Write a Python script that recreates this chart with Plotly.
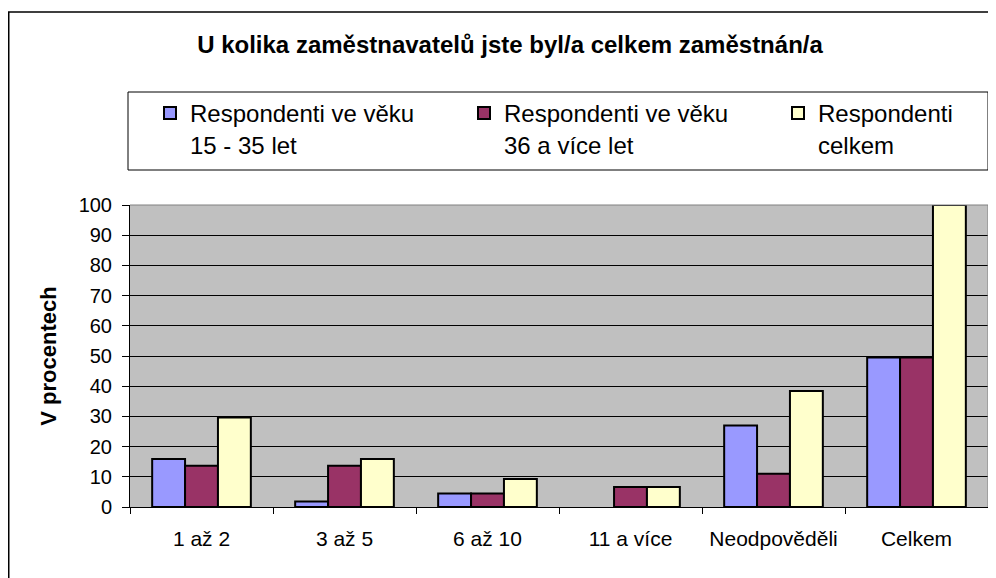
import plotly.graph_objects as go

categories = ["1 až 2", "3 až 5", "6 až 10", "11 a více", "Neodpověděli", "Celkem"]
series_names = ["Respondenti ve věku<br>15 - 35 let", "Respondenti ve věku<br>36 a více let", "Respondenti<br>celkem"]
young = [15.9, 1.8, 4.5, 0, 27.0, 49.5]
older = [13.7, 13.7, 4.5, 6.6, 11.0, 49.5]
total = [29.6, 15.9, 9.3, 6.6, 38.4, 100]
colors = ["#9999FF", "#993366", "#FFFFCC"]
y_ticks = list(range(0, 101, 10))

FONT = "Liberation Sans, Arial, sans-serif"

fig = go.Figure()
for name, vals, col in zip(series_names, [young, older, total], colors):
    fig.add_trace(go.Bar(
        x=categories, y=vals, name=name,
        marker=dict(color=col, line=dict(color="#000000",
                                         width=[2 if v > 0 else 0 for v in vals])),
    ))

# page body has an 8px margin: work in reference-pixel coordinates minus 8
OFF = 8
W, H = 996 - OFF, 578 - OFF
L = 130 - OFF
R = W - (988 - OFF)
T = 205 - OFF
B = H - (507 - OFF)
pw = W - L - R
ph = H - T - B

def px_x(x):
    return (x - OFF - L) / pw

def px_y(y):
    return 1 - (y - OFF - T) / ph

fig.update_layout(
    width=W, height=H,
    margin=dict(l=L, r=R, t=T, b=B, autoexpand=False),
    paper_bgcolor="white",
    plot_bgcolor="#C0C0C0",
    font=dict(family=FONT, color="#000000", size=20),
    bargap=0.31, bargroupgap=0,
    title=dict(text="<b>U kolika zaměstnavatelů jste byl/a celkem zaměstnán/a</b>",
               x=(510 - OFF) / W, xanchor="center", y=1 - (45 - OFF) / H, yanchor="middle",
               font=dict(size=24, family=FONT)),
    legend=dict(orientation="h", x=px_x(127), xanchor="left", y=px_y(91), yanchor="top",
                indentation=23, valign="top",
                font=dict(size=24, family=FONT), entrywidth=246, entrywidthmode="pixels",
                bgcolor="rgba(0,0,0,0)", borderwidth=0, traceorder="normal"),
    showlegend=True,
    xaxis=dict(showgrid=False, ticks="outside", ticklen=6, tickcolor="#000", tickson="boundaries",
               showline=True, linecolor="#000", linewidth=1, tickfont=dict(size=21),
               ticklabelstandoff=13, mirror=False),
    yaxis=dict(range=[0, 100], tickvals=y_ticks, showgrid=True, gridcolor="#000000", gridwidth=1,
               ticks="outside", ticklen=7, tickcolor="#000", showline=True, linecolor="#000",
               linewidth=1, tickfont=dict(size=20), zeroline=False, ticklabelstandoff=6,
               title=dict(text="<b>V procentech</b>", font=dict(size=22), standoff=15)),
    shapes=[
        dict(type="rect", xref="paper", yref="paper", x0=px_x(8.75), x1=px_x(1010), y0=px_y(12), y1=px_y(600),
             line=dict(color="#000", width=1.5), fillcolor="rgba(0,0,0,0)", layer="below"),
        dict(type="rect", xref="paper", yref="paper", x0=px_x(128), x1=px_x(988), y0=px_y(92), y1=px_y(170),
             line=dict(color="#000", width=1), fillcolor="rgba(0,0,0,0)", layer="below"),
        dict(type="line", xref="paper", yref="paper", x0=1, x1=1, y0=0, y1=1,
             line=dict(color="#808080", width=1)),
        dict(type="line", xref="paper", yref="paper", x0=0, x1=1, y0=1, y1=1,
             line=dict(color="#808080", width=1)),
    ],
)

fig.write_html("out.html")
